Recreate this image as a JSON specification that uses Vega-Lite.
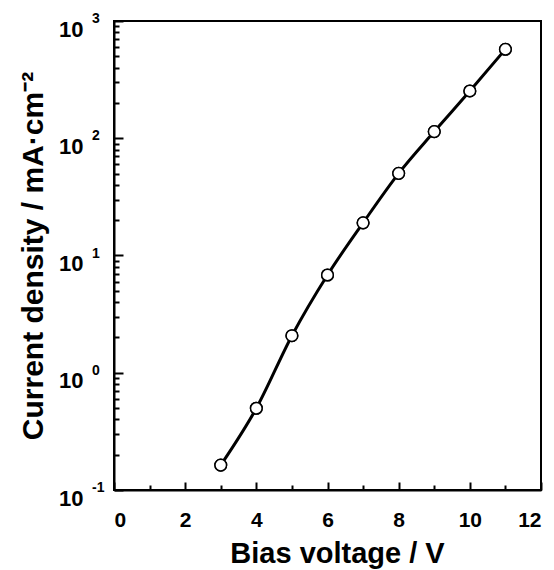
{
  "$schema": "https://vega.github.io/schema/vega-lite/v6.json",
  "autosize": {"type": "none"},
  "padding": {"left": 114, "top": 21, "right": 13, "bottom": 80},
  "width": 427,
  "height": 469,
  "background": "white",
  "config": {
    "view": {"stroke": "black", "strokeWidth": 2},
    "font": "Liberation Sans",
    "axis": {"grid": false, "domainColor": "black", "domainWidth": 2, "tickColor": "black", "tickWidth": 2, "labelFont": "Liberation Sans", "labelFontWeight": "bold", "labelColor": "black", "titleFont": "Liberation Sans", "titleFontWeight": "bold", "titleColor": "black"}
  },
  "datasets": {
    "pts": [
      {"v": 3, "j": 0.163},
      {"v": 4, "j": 0.498},
      {"v": 5, "j": 2.07},
      {"v": 6, "j": 6.82},
      {"v": 7, "j": 19.0},
      {"v": 8, "j": 50.2},
      {"v": 9, "j": 114},
      {"v": 10, "j": 253},
      {"v": 11, "j": 574}
    ],
    "exps": [
      {"t": 0.1, "e": "-1"},
      {"t": 1, "e": "0"},
      {"t": 10, "e": "1"},
      {"t": 100, "e": "2"},
      {"t": 1000, "e": "3"}
    ]
  },
  "resolve": {"axis": {"x": "independent", "y": "independent"}},
  "layer": [
    {
      "data": {"name": "pts"},
      "mark": {"type": "line", "interpolate": "monotone", "color": "black", "strokeWidth": 3},
      "encoding": {
        "x": {"field": "v", "type": "quantitative", "scale": {"domain": [0, 12], "nice": false},
          "axis": {"orient": "bottom", "title": "Bias voltage / V", "titleFontSize": 29, "titlePadding": 9, "titleX": 223, "values": [0,2,4,6,8,10,12],
            "labelFontSize": 21, "labelPadding": 19, "ticks": false}},
        "y": {"field": "j", "type": "quantitative", "scale": {"type": "log", "domain": [0.1, 1000], "nice": false},
          "axis": {"orient": "left", "title": "Current density / mA·cm⁻²", "titleFontSize": 30, "titlePadding": 10,
            "values": [0.1, 1, 10, 100, 1000],
            "labelExpr": "'10'",
            "labelFontSize": 22, "labelPadding": 31, "labelOffset": 8, "ticks": false}}
      }
    },
    {
      "data": {"name": "exps"},
      "mark": {"type": "text", "align": "left", "baseline": "middle", "fontSize": 14, "fontWeight": "bold", "font": "Liberation Sans", "dx": -22, "dy": -2, "clip": false, "color": "black"},
      "encoding": {
        "x": {"datum": 0, "type": "quantitative", "axis": null},
        "y": {"field": "t", "type": "quantitative",
          "axis": {"orient": "left", "title": null, "labels": false, "domain": false,
            "values": [0.2,0.3,0.4,0.5,0.6,0.7,0.8,0.9,2,3,4,5,6,7,8,9,20,30,40,50,60,70,80,90,200,300,400,500,600,700,800,900],
            "tickSize": 5, "offset": -5}},
        "text": {"field": "e"}
      }
    },
    {
      "data": {"name": "pts"},
      "mark": {"type": "point", "shape": "circle", "filled": true, "fill": "white", "stroke": "black", "strokeWidth": 1.5, "size": 135, "opacity": 1},
      "encoding": {
        "x": {"field": "v", "type": "quantitative",
          "axis": {"orient": "bottom", "title": null, "labels": false, "domain": false, "values": [1,3,5,7,9,11], "tickSize": 5, "offset": -5}},
        "y": {"field": "j", "type": "quantitative", "axis": null}
      }
    },
    {
      "data": {"name": "pts"},
      "mark": {"type": "point", "shape": "circle", "filled": true, "fill": "white", "stroke": "black", "strokeWidth": 1.5, "size": 135, "opacity": 1},
      "encoding": {
        "x": {"field": "v", "type": "quantitative",
          "axis": {"orient": "bottom", "title": null, "labels": false, "domain": false, "values": [0,2,4,6,8,10,12], "tickSize": 8, "offset": -8}},
        "y": {"field": "j", "type": "quantitative",
          "axis": {"orient": "left", "title": null, "labels": false, "domain": false, "values": [0.1,1,10,100,1000], "tickSize": 9, "offset": -9}}
      }
    }
  ]
}
